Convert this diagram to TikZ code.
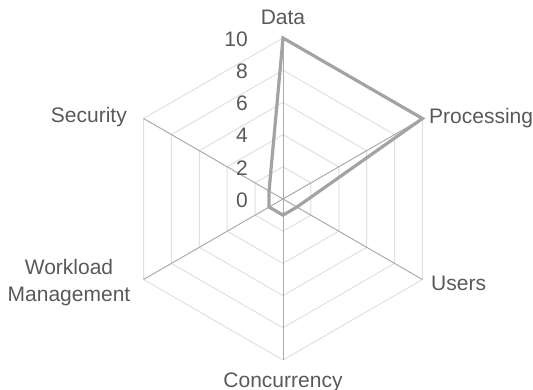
\documentclass[tikz,border=0pt]{standalone}
\usepackage{fontspec}
\setmainfont{Liberation Sans}
\usetikzlibrary{calc}
\definecolor{ringc}{HTML}{E0E0E0}
\definecolor{spokec}{HTML}{ABABAB}
\definecolor{seriesc}{HTML}{A3A3A3}
\definecolor{txtc}{HTML}{595959}
\begin{document}
\begin{tikzpicture}[x=1pt,y=-1pt,
  lbl/.style={text=txtc,font=\fontsize{21}{27}\selectfont,inner sep=0pt},
  ringline/.style={draw=ringc,line width=1pt},
  spokeline/.style={draw=spokec,line width=1pt},
  seriesline/.style={draw=seriesc,line width=3.2pt,line join=miter}]
\useasboundingbox (0,0) rectangle (533,390);
\coordinate (O) at (283,199);
% rings
\foreach \k in {1,...,5}{
  \pgfmathsetmacro{\r}{32.2*\k}
  \draw[ringline,shift={(283,199)}] (-90:\r) -- (-30:\r) -- (30:\r) -- (90:\r) -- (150:\r) -- (210:\r) -- cycle;
}
% spokes
\foreach \a/\n in {-90/aD,-30/aP,30/aU,90/aC,150/aW,210/aS}{
  \coordinate (\n) at ($(O)+(\a:161)$);
  \draw[spokeline] (O) -- (\n);
}
% series
\coordinate (vD) at ($(O)+(-90:161)$);
\coordinate (vP) at ($(O)+(-30:161)$);
\coordinate (vU) at ($(O)+(30:16.1)$);
\coordinate (vC) at ($(O)+(90:16.1)$);
\coordinate (vW) at ($(O)+(150:16.1)$);
\coordinate (vS) at ($(O)+(210:16.1)$);
\draw[seriesline] (vD) -- (vP) -- (vU) -- (vC) -- (vW) -- (vS) -- cycle;
% axis labels
\node[lbl] (ldata) at (283,17) {Data};
\node[lbl,anchor=west] (lproc) at (429,118) {Processing};
\node[lbl,anchor=west] (lusers) at (431,283) {Users};
\node[lbl] (lconc) at (283,382) {Concurrency};
\node[lbl,align=center] (lwork) at (69,283) {Workload\\Management};
\node[lbl,anchor=east] (lsec) at (127,117) {Security};
% scale labels
\foreach \v/\k in {0/0,2/1,4/2,6/3,8/4,10/5}{
  \node[lbl,anchor=east] (s\v) at (248,{199-32.2*\k+1}) {\v};
}
\end{tikzpicture}
\end{document}
